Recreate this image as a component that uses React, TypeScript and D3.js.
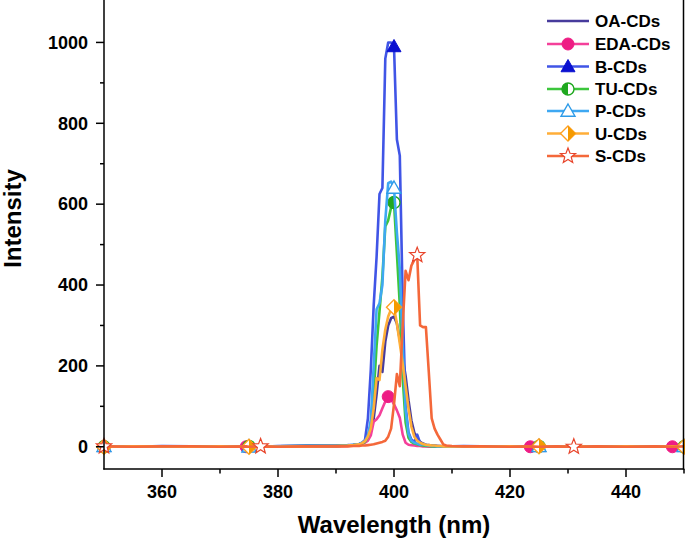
import React from "react";
import * as d3 from "d3";

const wavelengths = [350, 355, 360, 365, 370, 374.5, 375, 377, 380, 385, 390, 392, 393, 394, 394.5, 395, 395.5, 396, 396.5, 397, 397.5, 398, 398.5, 399, 399.5, 400, 400.5, 401, 401.5, 402, 402.5, 403, 403.5, 404, 404.5, 405, 405.5, 406, 406.5, 407, 407.5, 408, 408.5, 409, 410, 412, 415, 420, 423.5, 425, 428, 431, 435, 440, 445, 448, 450];

const oaCDs = [0, 1, 0, 1, 0, 1, 1, 0, 1, 2, 2, 3, 4, 6, 9, 14, 22, 38, 70, 130, 200, 185, 260, 300, 318, 322, 305, 265, 220, 175, 115, 65, 35, 20, 12, 8, 5, 4, 3, 3, 2, 2, 1, 1, 1, 1, 0, 1, 0, 1, 0, 1, 0, 1, 0, 1, 0];
const edaCDs = [0, 1, 0, 0, 1, 0, 0, 1, 0, 1, 1, 2, 3, 5, 7, 10, 15, 28, 62, 68, 78, 95, 112, 124, 118, 105, 90, 72, 30, 10, 5, 4, 3, 2, 2, 1, 1, 0, 1, 0, 1, 0, 1, 0, 0, 1, 0, 1, 0, 1, 0, 1, 0, 0, 1, 0, 0];
const bCDs = [1, 0, 2, 1, 0, 1, 1, 0, 2, 3, 3, 4, 5, 7, 10, 17, 70, 190, 350, 470, 625, 640, 960, 1000, 1000, 990, 760, 720, 360, 100, 35, 18, 12, 30, 10, 6, 4, 3, 3, 2, 2, 1, 1, 1, 1, 2, 1, 1, 0, 1, 1, 0, 1, 1, 0, 1, 1];
const tuCDs = [0, 1, 0, 1, 1, 0, 1, 0, 1, 2, 2, 3, 4, 6, 8, 12, 25, 55, 130, 250, 335, 420, 545, 560, 592, 604, 478, 350, 170, 60, 22, 12, 8, 6, 4, 3, 2, 2, 1, 1, 1, 1, 1, 0, 1, 1, 0, 1, 0, 1, 0, 1, 0, 1, 0, 1, 0];
const pCDs = [1, 0, 1, 0, 1, 1, 0, 1, 1, 2, 2, 3, 5, 7, 10, 14, 28, 65, 200, 340, 355, 400, 560, 652, 656, 640, 530, 440, 250, 90, 32, 15, 10, 8, 5, 6, 4, 3, 2, 2, 1, 1, 1, 1, 1, 1, 0, 1, 0, 1, 1, 0, 1, 0, 1, 0, 1];
const uCDs = [0, 1, 1, 0, 1, 0, 0, 1, 0, 1, 2, 3, 4, 6, 9, 14, 25, 45, 95, 170, 165, 240, 290, 322, 340, 345, 305, 255, 205, 150, 95, 50, 25, 15, 10, 7, 5, 4, 3, 3, 2, 2, 1, 1, 1, 1, 0, 1, 0, 1, 0, 1, 0, 1, 0, 1, 0];
const sCDs = [1, 0, 1, 1, 0, 1, 0, 1, 0, 1, 1, 1, 2, 2, 3, 3, 4, 5, 6, 8, 10, 12, 15, 25, 45, 105, 180, 150, 300, 435, 412, 448, 462, 474, 300, 296, 296, 185, 70, 45, 30, 18, 6, 3, 2, 1, 1, 0, 1, 0, 1, 0, 1, 0, 1, 0, 1];

const seriesNames = ["OA-CDs", "EDA-CDs", "B-CDs", "TU-CDs", "P-CDs", "U-CDs", "S-CDs"];
const markerEvery25 = [350, 375, 400, 425, 450];
const markerEDA = [350, 374.5, 399, 423.5, 448];
const markerS = [350, 377, 404, 431];

const xTicks = [360, 380, 400, 420, 440];
const xMinor = [370, 390, 410, 430, 450];
const yTicks = [0, 200, 400, 600, 800, 1000];
const yMinor = [100, 300, 500, 700, 900];

type Shape = "none" | "circle" | "triangle" | "halfcircle" | "opentriangle" | "halfdiamond" | "star";

const series = [
  { name: seriesNames[0], values: oaCDs, color: "#473B9C", shape: "none" as Shape, marks: [] as number[] },
  { name: seriesNames[1], values: edaCDs, color: "#F4409A", shape: "circle" as Shape, marks: markerEDA },
  { name: seriesNames[2], values: bCDs, color: "#4055E6", shape: "triangle" as Shape, marks: markerEvery25 },
  { name: seriesNames[3], values: tuCDs, color: "#3CC63C", shape: "halfcircle" as Shape, marks: markerEvery25 },
  { name: seriesNames[4], values: pCDs, color: "#3EA8F2", shape: "opentriangle" as Shape, marks: markerEvery25 },
  { name: seriesNames[5], values: uCDs, color: "#FFAE38", shape: "halfdiamond" as Shape, marks: markerEvery25 },
  { name: seriesNames[6], values: sCDs, color: "#F4683A", shape: "star" as Shape, marks: markerS },
];

const FONT = "'Liberation Sans', Arial, Helvetica, sans-serif";

function Marker({ shape, cx, cy }: { shape: Shape; cx: number; cy: number }) {
  if (shape === "circle") {
    return <circle cx={cx} cy={cy} r={6} fill="#EE1C84" stroke="#EE1C84" strokeWidth={1} />;
  }
  if (shape === "triangle") {
    const s = 7;
    return <path d={`M${cx},${cy - s}L${cx + s},${cy + s * 0.75}L${cx - s},${cy + s * 0.75}Z`} fill="#0A10D0" stroke="#0A10D0" strokeWidth={1} />;
  }
  if (shape === "opentriangle") {
    const s = 7;
    return <path d={`M${cx},${cy - s}L${cx + s},${cy + s * 0.75}L${cx - s},${cy + s * 0.75}Z`} fill="#fff" stroke="#2E9BE8" strokeWidth={1.4} />;
  }
  if (shape === "halfcircle") {
    const r = 6;
    return (
      <g>
        <circle cx={cx} cy={cy} r={r} fill="#fff" stroke="#1FA81F" strokeWidth={1.4} />
        <path d={`M${cx},${cy - r}A${r},${r} 0 0 0 ${cx},${cy + r}Z`} fill="#1FA81F" />
      </g>
    );
  }
  if (shape === "halfdiamond") {
    const s = 7.5;
    return (
      <g>
        <path d={`M${cx},${cy - s}L${cx + s},${cy}L${cx},${cy + s}L${cx - s},${cy}Z`} fill="#fff" stroke="#FFA020" strokeWidth={1.4} />
        <path d={`M${cx},${cy - s}L${cx + s},${cy}L${cx},${cy + s}Z`} fill="#F59A00" />
      </g>
    );
  }
  if (shape === "star") {
    const outer = 8, inner = 3.4;
    const pts: string[] = [];
    for (let i = 0; i < 10; i++) {
      const r = i % 2 === 0 ? outer : inner;
      const a = -Math.PI / 2 + (i * Math.PI) / 5;
      pts.push(`${cx + r * Math.cos(a)},${cy + r * Math.sin(a)}`);
    }
    return <polygon points={pts.join(" ")} fill="#fff" stroke="#E8442A" strokeWidth={1.2} />;
  }
  return null;
}

export default function App() {
  const x = d3.scaleLinear().domain([350, 450]).range([104, 684]);
  const y = d3.scaleLinear().domain([-55, 1100]).range([469, 2]);

  const line = d3
    .line<number>()
    .x((_, i) => x(wavelengths[i]))
    .y((d) => y(d));

  const legendY = [21, 44, 66.5, 89, 111, 133.5, 156];

  return (
    <svg width={685} height={543} style={{ position: "absolute", left: 0, top: 0, background: "#fff" }} fontFamily={FONT}>
      <rect x={0} y={0} width={685} height={543} fill="#fff" />
      {series.map((s) => (
        <g key={s.name}>
          <path d={line(s.values) || ""} fill="none" stroke={s.color} strokeWidth={2.6} strokeLinejoin="round" />
          {s.marks.map((w) => {
            const idx = wavelengths.indexOf(w);
            return <Marker key={w} shape={s.shape} cx={x(w)} cy={y(s.values[idx])} />;
          })}
        </g>
      ))}

      <line x1={104} y1={0} x2={104} y2={469.5} stroke="#000" strokeWidth={1.5} />
      <line x1={683.5} y1={0} x2={683.5} y2={469.5} stroke="#000" strokeWidth={1.5} />
      <line x1={103.3} y1={469} x2={684.3} y2={469} stroke="#000" strokeWidth={1.5} />

      {yTicks.map((t) => (
        <g key={"y" + t}>
          <line x1={96} x2={104} y1={y(t)} y2={y(t)} stroke="#000" strokeWidth={1.5} />
          <text x={88} y={y(t)} dy="0.35em" textAnchor="end" fontSize={18} fontWeight="bold">{t}</text>
        </g>
      ))}
      {yMinor.map((t) => (
        <line key={"ym" + t} x1={100} x2={104} y1={y(t)} y2={y(t)} stroke="#000" strokeWidth={1.5} />
      ))}
      {xTicks.map((t) => (
        <g key={"x" + t}>
          <line x1={x(t)} x2={x(t)} y1={469} y2={477} stroke="#000" strokeWidth={1.5} />
          <text x={x(t)} y={498} textAnchor="middle" fontSize={18} fontWeight="bold">{t}</text>
        </g>
      ))}
      {xMinor.map((t) => (
        <line key={"xm" + t} x1={x(t)} x2={x(t)} y1={469} y2={473.5} stroke="#000" strokeWidth={1.5} />
      ))}

      <text x={394} y={533} textAnchor="middle" fontSize={24} fontWeight="bold">Wavelength (nm)</text>
      <text transform="translate(21,218.5) rotate(-90)" textAnchor="middle" fontSize={24} fontWeight="bold">Intensity</text>

      {series.map((s, i) => (
        <g key={"leg" + s.name}>
          <line x1={547} x2={589} y1={legendY[i]} y2={legendY[i]} stroke={s.color} strokeWidth={2.6} />
          <Marker shape={s.shape} cx={568} cy={legendY[i]} />
          <text x={595} y={legendY[i]} dy="0.36em" fontSize={17} fontWeight="bold">{s.name}</text>
        </g>
      ))}
    </svg>
  );
}
